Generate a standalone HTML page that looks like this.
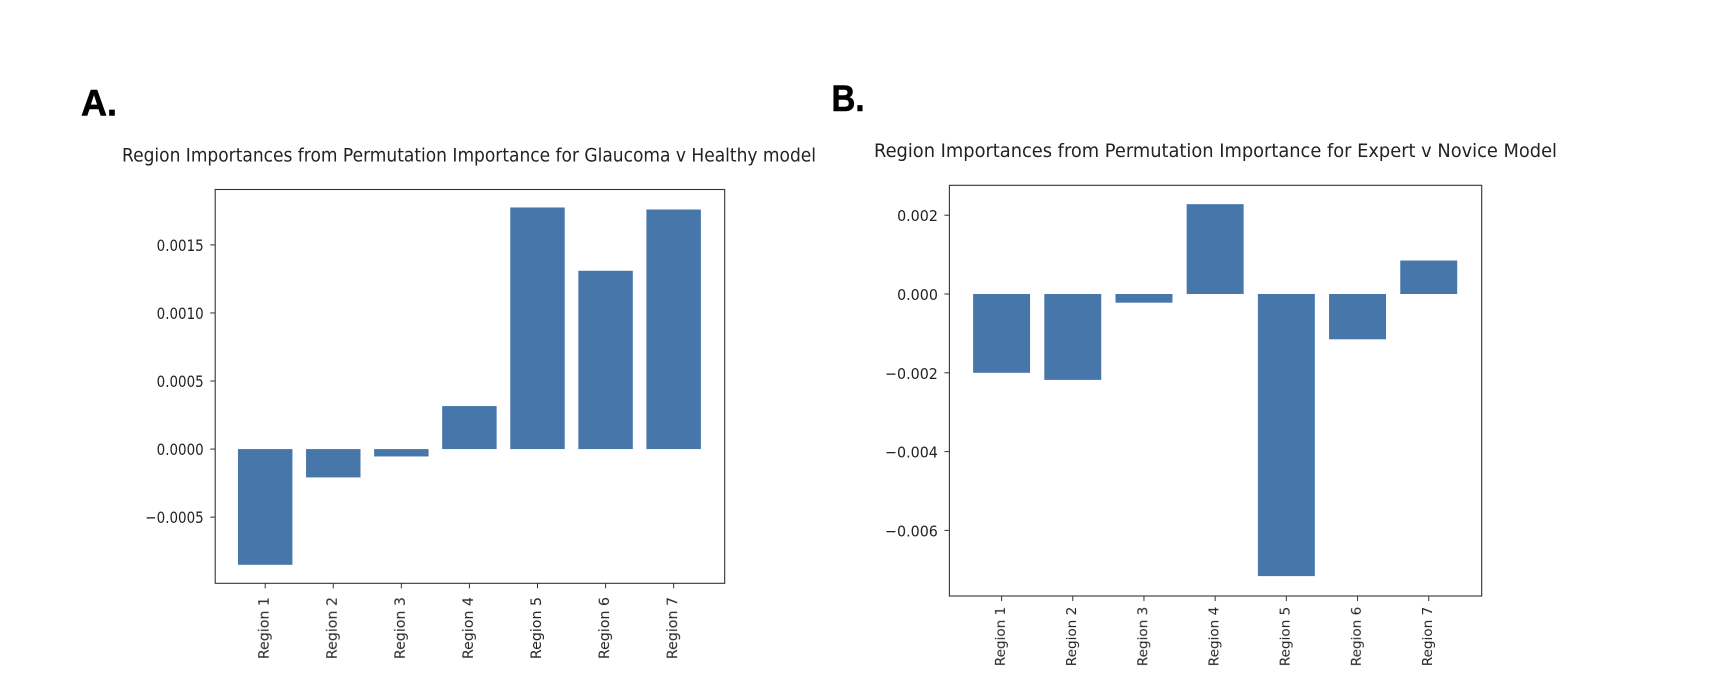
<!DOCTYPE html>
<html lang="en">
<head>
<meta charset="utf-8">
<title>Region Importances</title>
<style>
html,body{margin:0;padding:0;background:#fff;width:1720px;height:692px;overflow:hidden}
svg{display:block}
text{font-family:"DejaVu Sans","Liberation Sans",sans-serif;fill:#222;filter:blur(0.3px)}
.panel{font-family:"Liberation Sans",sans-serif;font-weight:700;font-size:37px;fill:#000;stroke:#000;stroke-width:0.6px;filter:none}
</style>
</head>
<body>
<svg id="fig" xmlns="http://www.w3.org/2000/svg" width="1720" height="692" viewBox="0 0 1720 692">
  <defs><filter id="soft" x="-5%" y="-5%" width="110%" height="110%"><feGaussianBlur stdDeviation="0.35"/></filter></defs>
  <text class="panel" x="81" y="115.500" textLength="36" lengthAdjust="spacingAndGlyphs">A.</text>
  <text class="panel" x="831.500" y="111" textLength="33" lengthAdjust="spacingAndGlyphs">B.</text>
  <text x="122" y="161.500" font-size="18.300" textLength="694" lengthAdjust="spacingAndGlyphs">Region Importances from Permutation Importance for Glaucoma v Healthy model</text>
  <text x="874" y="157" font-size="18.300" textLength="683" lengthAdjust="spacingAndGlyphs">Region Importances from Permutation Importance for Expert v Novice Model</text>
  <g id="chart-a"></g>
  <g id="chart-b"></g>
</svg>
<script>
const categories = ["Region 1","Region 2","Region 3","Region 4","Region 5","Region 6","Region 7"];

const valuesA = [-0.00085,-0.000208,-0.000054,0.000316,0.001775,0.00131,0.00176];
const tickValuesA = [0.0015,0.001,0.0005,0,-0.0005];
const tickLabelsA = ["0.0015","0.0010","0.0005","0.0000","\u22120.0005"];

const valuesB = [-0.002,-0.00218,-0.00022,0.00228,-0.00716,-0.00115,0.00085];
const tickValuesB = [0.002,0,-0.002,-0.004,-0.006];
const tickLabelsB = ["0.002","0.000","\u22120.002","\u22120.004","\u22120.006"];

const NS = "http://www.w3.org/2000/svg";

function mk(parent, tag, attrs) {
  const el = document.createElementNS(NS, tag);
  for (const k in attrs) el.setAttribute(k, attrs[k]);
  parent.appendChild(el);
  return el;
}

function drawChart(root, cfg, values, tickValues, tickLabels) {
  const xScale = v => cfg.left + (v - cfg.xMin) / (cfg.xMax - cfg.xMin) * (cfg.right - cfg.left);
  const yScale = v => cfg.top + (cfg.yMax - v) / (cfg.yMax - cfg.yMin) * (cfg.bottom - cfg.top);
  const bw = xScale(0.8) - xScale(0);

  values.forEach((v, i) => {
    const y0 = yScale(0), y1 = yScale(v);
    const bar = mk(root, "rect", {
      x: xScale(i) - bw / 2,
      y: Math.min(y0, y1),
      width: bw,
      height: Math.abs(y1 - y0),
      fill: "#4776aa",
      filter: "url(#soft)"
    });
    
    
  });

  const frame = mk(root, "rect", {
    x: cfg.left, y: cfg.top,
    width: cfg.right - cfg.left, height: cfg.bottom - cfg.top,
    fill: "none", stroke: "#333", "stroke-width": 1.1
  });
  
  

  tickValues.forEach((v, i) => {
    const y = yScale(v);
    const tick = mk(root, "line", {
      x1: cfg.left - 5, x2: cfg.left, y1: y, y2: y,
      stroke: "#333", "stroke-width": 1
    });
    
    
    const label = mk(root, "text", {
      x: cfg.left - 11.5, y: y + 6,
      "text-anchor": "end", "font-size": cfg.yFont
    });
    label.textContent = tickLabels[i];
    
    
    label.setAttribute('textLength', label.getComputedTextLength() * cfg.yCond);
    label.setAttribute('lengthAdjust', 'spacingAndGlyphs');
  });

  categories.forEach((c, i) => {
    const x = xScale(i);
    const tick = mk(root, "line", {
      x1: x, x2: x, y1: cfg.bottom, y2: cfg.bottom + 5,
      stroke: "#333", "stroke-width": 1
    });
    
    
    const lx = x + 3.5, ly = cfg.labelTop;
    const label = mk(root, "text", {
      x: lx, y: ly,
      transform: "rotate(-90 " + lx + " " + ly + ")",
      "text-anchor": "end",
      "font-size": cfg.xFont
    });
    label.textContent = c;
    
    
  });
}

drawChart(document.getElementById("chart-a"),
  {left:215.2,right:724.7,top:189.5,bottom:583.3,xMin:-0.7345,xMax:6.75,yMin:-0.000986,yMax:0.001907,yFont:16,yCond:0.84,xFont:14.2,labelTop:597},
  valuesA, tickValuesA, tickLabelsA);

drawChart(document.getElementById("chart-b"),
  {left:949.4,right:1481.7,top:185.3,bottom:596,xMin:-0.733,xMax:6.744,yMin:-0.007665,yMax:0.002759,yFont:15.5,yCond:0.92,xFont:13.6,labelTop:606.7},
  valuesB, tickValuesB, tickLabelsB);
</script>
</body>
</html>
